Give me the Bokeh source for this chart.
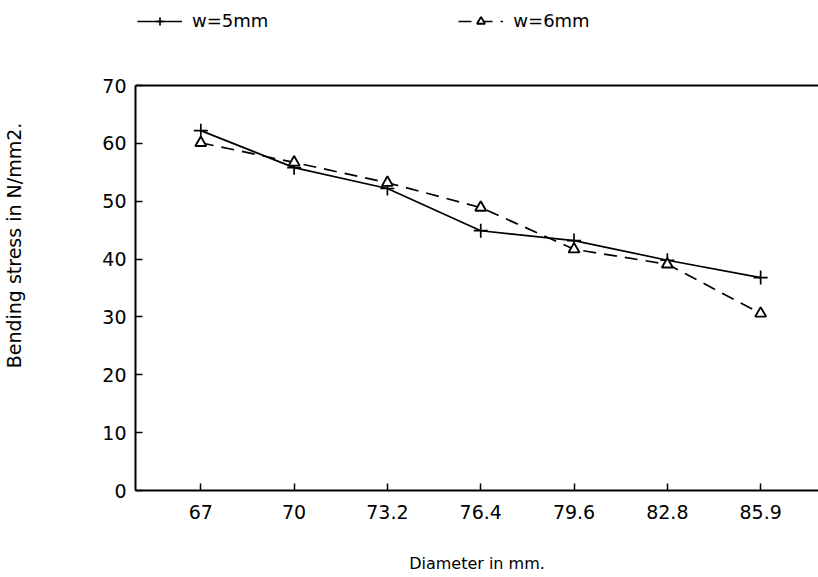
from bokeh.plotting import figure
from bokeh.models import Range1d, Span, Legend, LegendItem, FixedTicker
from bokeh.embed import file_html
from bokeh.resources import INLINE

diameters = ["67", "70", "73.2", "76.4", "79.6", "82.8", "85.9"]
stress_w5 = [62.2, 55.8, 52.2, 44.9, 43.2, 39.8, 36.8]
stress_w6 = [60.1, 56.7, 53.2, 48.9, 41.7, 39.1, 30.6]
y_ticks = [0, 10, 20, 30, 40, 50, 60, 70]

FONT = "DejaVu Sans"
xs = list(range(len(diameters)))

# frame runs from the top of the canvas so the legend can sit above the plotted box
FRAME_H = 490
Y_TOP = 70 * FRAME_H / 405.0

p = figure(width=818, height=577, output_backend="svg", toolbar_location=None,
           x_range=Range1d(-0.7, 6.62), y_range=Range1d(0, Y_TOP),
           min_border_left=135, min_border_right=0, min_border_top=0, min_border_bottom=87)
p.outline_line_color = None
p.xgrid.visible = False
p.ygrid.visible = False
p.background_fill_color = "white"
p.border_fill_color = "white"

for ax in (p.xaxis[0], p.yaxis[0]):
    ax.axis_line_width = 2
    ax.axis_line_color = "black"
    ax.major_tick_in = 7
    ax.major_tick_out = 0
    ax.major_tick_line_width = 1.5
    ax.major_tick_line_color = "black"
    ax.minor_tick_line_color = None
    ax.major_label_text_font = FONT
    ax.major_label_text_font_size = "19px"
    ax.major_label_text_color = "black"
    ax.axis_label_text_font = FONT
    ax.axis_label_text_font_style = "normal"
    ax.axis_label_text_color = "black"

p.xaxis.ticker = FixedTicker(ticks=xs)
p.xaxis.major_label_overrides = {i: d for i, d in enumerate(diameters)}
p.xaxis.major_label_standoff = 14
p.xaxis.axis_label = "Diameter in mm."
p.xaxis.axis_label_text_font_size = "16px"
p.xaxis.axis_label_standoff = 32

p.yaxis.ticker = FixedTicker(ticks=y_ticks)
p.yaxis.bounds = (0, 70)
p.yaxis.major_label_standoff = 9
p.yaxis.axis_label = "Bending stress in N/mm2."
p.yaxis.axis_label_text_font_size = "19px"
p.yaxis.axis_label_standoff = 74

p.add_layout(Span(location=70, dimension="width", line_color="black", line_width=2))

l5 = p.line(xs, stress_w5, line_color="black", line_width=1.7)
s5 = p.scatter(xs, stress_w5, marker="cross", size=14, line_color="black", line_width=1.7)
l6 = p.line(xs, stress_w6, line_color="black", line_width=1.7, line_dash="13 8")
s6 = p.scatter(xs, stress_w6, marker="triangle", size=11, line_color="black",
               fill_color="white", line_width=1.9)

legend = Legend(items=[LegendItem(label="w=5mm", renderers=[l5, s5]),
                       LegendItem(label="w=6mm", renderers=[l6, s6])],
                location=(2, 459), orientation="horizontal",
                label_text_font=FONT, label_text_font_size="18px",
                label_text_color="black",
                glyph_width=45, glyph_height=20, spacing=190,
                border_line_color=None, background_fill_alpha=0,
                padding=0, margin=0, label_standoff=10)
p.add_layout(legend, "center")

open("out.html", "w").write(file_html(p, INLINE))
